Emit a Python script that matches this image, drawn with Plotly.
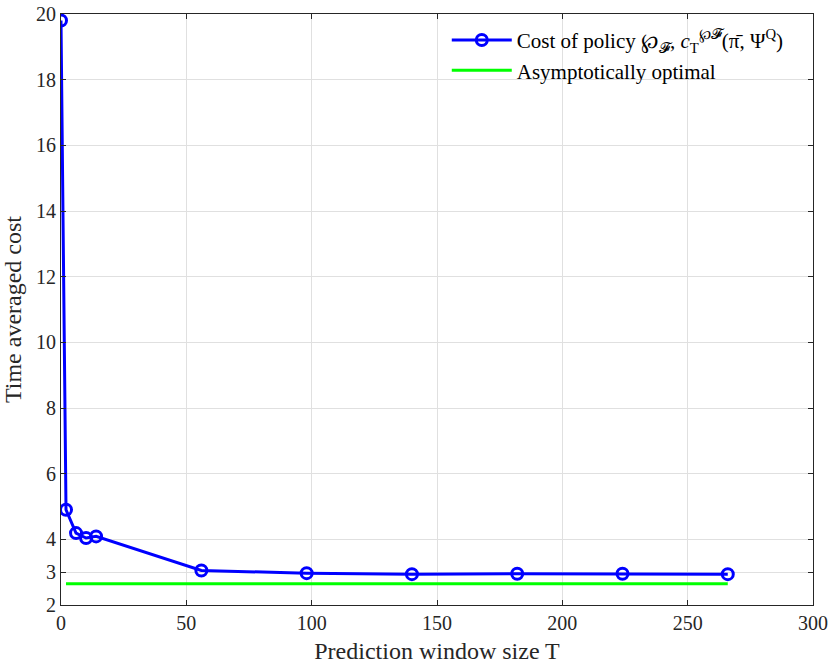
import plotly.graph_objects as go

# prediction window sizes and measured time-averaged cost
window_T = [0, 2, 6, 10, 14, 56, 98, 140, 182, 224, 266]
cost = [19.8, 4.9, 4.19, 4.04, 4.09, 3.05, 2.97, 2.94, 2.95, 2.95, 2.94]

# asymptotically optimal level
opt_T = [2, 266]
opt_cost = [2.65, 2.65]

y_ticks = [2, 3, 4, 6, 8, 10, 12, 14, 16, 18, 20]
x_ticks = [0, 50, 100, 150, 200, 250, 300]

fig = go.Figure()
fig.add_trace(go.Scatter(
    x=window_T, y=cost, mode='lines+markers',
    name='Cost of policy ℘<sub>𝓕</sub>, <i>c</i><sub>T</sub><sup>℘𝓕</sup>(π̄, Ψ<sup>Q</sup>)',
    line=dict(color='#0000ff', width=3),
    marker=dict(symbol='circle-open', size=11, color='#0000ff', line=dict(width=3))))
fig.add_trace(go.Scatter(
    x=opt_T, y=opt_cost, mode='lines', name='Asymptotically optimal',
    line=dict(color='#00ff00', width=3)))

axis_style = dict(showline=True, linecolor='#262626', linewidth=1, mirror='ticks',
                  ticks='inside', ticklen=5, tickcolor='#262626',
                  showgrid=True, gridcolor='#e0e0e0', gridwidth=1, zeroline=False,
                  automargin=False,
                  tickfont=dict(size=20, color='#262626'))

fig.update_layout(
    width=830, height=668,
    margin=dict(l=61, r=17, t=14, b=63),
    plot_bgcolor='white', paper_bgcolor='white',
    font=dict(family='Liberation Serif', color='#262626'),
    showlegend=True,
    legend=dict(x=0.513, y=0.99, xanchor='left', yanchor='top',
                bgcolor='rgba(255,255,255,0)', font=dict(size=21, color='#000000'),
                tracegroupgap=0, itemwidth=60),
    xaxis=dict(range=[0, 300], tickvals=x_ticks,
               title=dict(text='Prediction window size T', font=dict(size=24), standoff=9),
               **axis_style),
    yaxis=dict(range=[2, 20], tickvals=y_ticks,
               title=dict(text='Time averaged cost', font=dict(size=24), standoff=15),
               **axis_style),
)

# drop the default page margin so the figure sits at the window's corner
fig.write_html("out.html", config={'displayModeBar': False},
               post_script="document.body.style.margin='0';")
